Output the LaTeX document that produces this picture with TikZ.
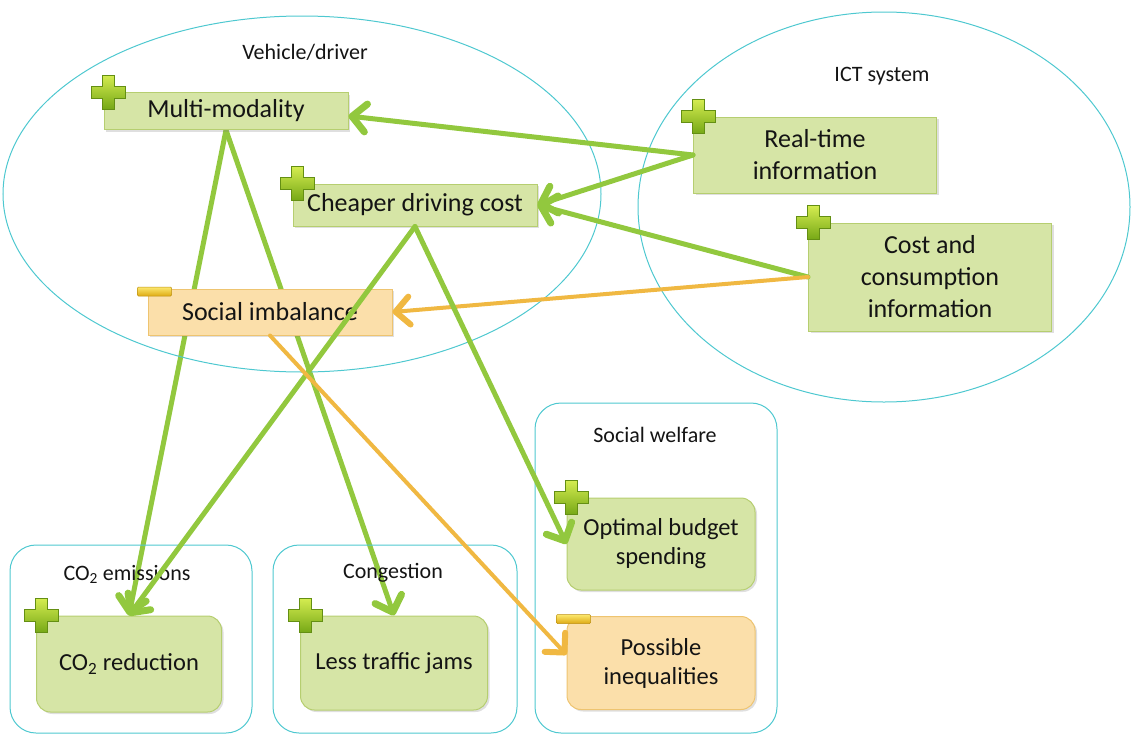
\documentclass[tikz,border=0pt]{standalone}
\usepackage{fontspec}
\setmainfont{Carlito}
\usetikzlibrary{arrows.meta,shadows}

\definecolor{boxGreen}{RGB}{214,229,166}
\definecolor{edgeGreen}{RGB}{182,206,112}
\definecolor{boxOrange}{RGB}{251,223,170}
\definecolor{edgeOrange}{RGB}{238,196,112}
\definecolor{lineGreen}{RGB}{146,200,62}
\definecolor{lineOrange}{RGB}{240,184,66}
\definecolor{ringCyan}{RGB}{78,200,208}
\definecolor{plusTop}{RGB}{212,236,80}
\definecolor{plusBot}{RGB}{118,168,22}
\definecolor{minusTop}{RGB}{252,232,110}
\definecolor{minusBot}{RGB}{222,170,20}
\definecolor{txt}{RGB}{20,20,20}

\pgfdeclarelayer{back}
\pgfsetlayers{back,main}

% plus / minus badges at the top left corner of a box
\newcommand{\plusmark}[1]{\shade[shift={([xshift=5pt]#1.north west)}, top color=plusTop,
  bottom color=plusBot, draw=plusBot!85!black, line width=0.5pt]
  (-6,-17) -- (6,-17) -- (6,-6) -- (17,-6) -- (17,6) -- (6,6) -- (6,17)
  -- (-6,17) -- (-6,6) -- (-17,6) -- (-17,-6) -- (-6,-6) -- cycle;}
\newcommand{\minusmark}[1]{\shade[shift={([xshift=7pt,yshift=-3pt]#1.north west)}, top color=minusTop,
  bottom color=minusBot, draw=minusBot!85!black, line width=0.5pt, rounded corners=1pt]
  (-17,-4.5) rectangle (17,4.5);}

\begin{document}
\begin{tikzpicture}[x=1pt,y=-1pt]
  \tikzstyle{every node} = [align=center, text=txt]
  \tikzstyle{grouplab} = [font=\fontsize{22}{26}\selectfont]
  \tikzstyle{posbox} = [draw=edgeGreen, fill=boxGreen, line width=1pt, minimum width=244pt,
    font=\fontsize{26}{32}\selectfont,
    drop shadow={shadow xshift=2pt, shadow yshift=-2pt, opacity=0.25}]
  \tikzstyle{negbox} = [posbox, draw=edgeOrange, fill=boxOrange]
  \tikzstyle{effpos} = [posbox, rounded corners=14pt, font=\fontsize{24.5}{29}\selectfont]
  \tikzstyle{effneg} = [effpos, draw=edgeOrange, fill=boxOrange]
  \tikzstyle{group} = [draw=ringCyan, line width=1pt, rounded corners=26pt]
  \tikzstyle{garrow} = [draw=lineGreen, line width=5pt, line cap=round,
    -{Straight Barb[length=14pt,width=28pt,line width=7pt,round]}]
  \tikzstyle{oarrow} = [draw=lineOrange, line width=4pt, line cap=round,
    -{Straight Barb[length=14pt,width=28pt,line width=6pt,round]}]

  \useasboundingbox (0,0) rectangle (1132,736);

  % areas
  \draw[ringCyan, line width=1pt] (302,194) ellipse [x radius=299pt, y radius=178pt];
  \draw[ringCyan, line width=1pt] (884,207) ellipse [x radius=246pt, y radius=195pt];
  \draw[group] (10,545) rectangle (252,733);
  \draw[group] (273,545) rectangle (517,733);
  \draw[group] (535,403) rectangle (777,733);

  \node[grouplab] (vdlab) at (305,52) {Vehicle/driver};
  \node[grouplab] (ictlab) at (882,76) {ICT system};
  \node[grouplab] (co2lab) at (127,574) {CO\textsubscript{2} emissions};
  \node[grouplab] (conlab) at (393,573) {Congestion};
  \node[grouplab] (wellab) at (655,435) {Social welfare};

  % factors
  \node[posbox, minimum height=37pt] (mm) at (226,111) {Multi-modality};
  \node[posbox, minimum height=42pt] (cheap) at (415,205) {Cheaper driving cost};
  \node[negbox, minimum height=46pt] (soc) at (270,312) {Social imbalance};
  \node[posbox, minimum width=243pt, minimum height=76pt] (rti) at (815,155) {Real-time\\information};
  \node[posbox, minimum width=243pt, minimum height=108pt] (cci) at (930,277) {Cost and\\consumption\\information};

  % effects
  \node[effpos, minimum width=185pt, minimum height=96pt] (co2) at (129,664) {CO\textsubscript{2} reduction};
  \node[effpos, minimum width=187pt, minimum height=94pt] (ltj) at (394,663) {Less traffic jams};
  \node[effpos, minimum width=188pt, minimum height=92pt] (obs) at (661,544) {Optimal budget\\spending};
  \node[effneg, minimum width=188pt, minimum height=93pt] (pin) at (661,663) {Possible\\inequalities};

  \plusmark{mm} \plusmark{cheap} \plusmark{rti} \plusmark{cci}
  \plusmark{co2} \plusmark{ltj} \plusmark{obs}
  \minusmark{soc} \minusmark{pin}

  % links
  \begin{pgfonlayer}{back}
    \draw[garrow] (mm.south) -- (co2.north);
    \draw[garrow] (mm.south) -- (ltj.north);
  \end{pgfonlayer}
  \draw[garrow] (rti.west) -- ([yshift=-5pt]mm.east);
  \draw[garrow] (rti.west) -- (cheap.east);
  \draw[garrow] (cci.west) -- (cheap.east);
  \draw[oarrow] (cci.west) -- (soc.east);
  \draw[garrow] (cheap.south) -- (co2.north);
  \draw[garrow] (cheap.south) -- (obs.west);
  \draw[oarrow] (soc.south) -- (pin.175);
\end{tikzpicture}
\end{document}
